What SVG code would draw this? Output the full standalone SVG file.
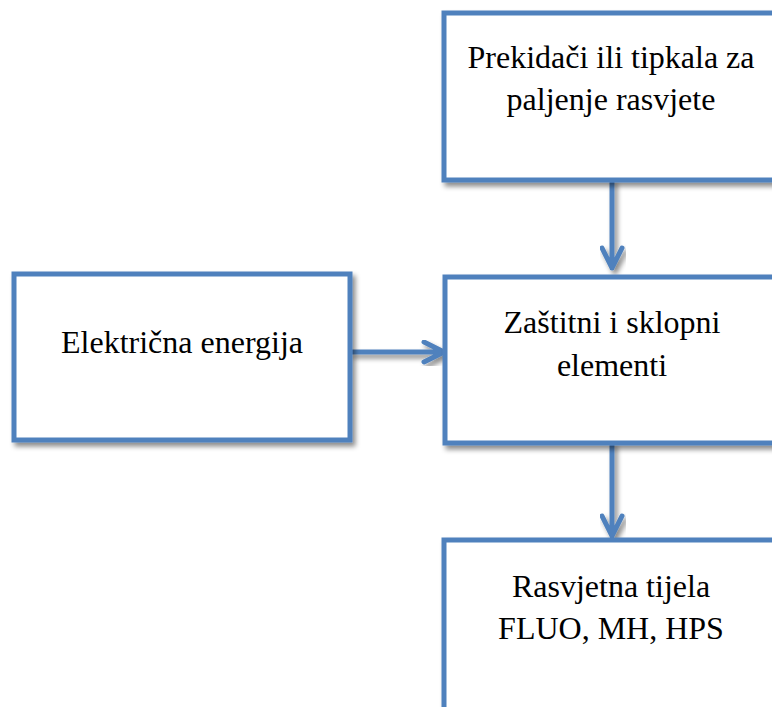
<svg xmlns="http://www.w3.org/2000/svg" width="772" height="707" viewBox="0 0 772 707">
<defs>
<filter id="sh" x="-10%" y="-10%" width="130%" height="130%">
<feDropShadow dx="3" dy="4" stdDeviation="2.5" flood-color="#000" flood-opacity="0.45"/>
</filter>
</defs>
<style>
.box{fill:#fff;stroke:#4F81BD;stroke-width:5;filter:url(#sh)}
.t{font-size:32px;fill:#000;text-anchor:middle}
.c{fill:none;stroke:#4F81BD;stroke-width:5;stroke-linecap:round;stroke-linejoin:round;filter:url(#sh)}
</style>
<rect width="772" height="707" fill="#fff"/>
<g id="connectors">
<path class="c" d="M612,181 V268 M602,248 L612,268 L622,248"/>
<path class="c" d="M352,352 H444 M424,342 L444,352 L424,362"/>
<path class="c" d="M612,444 V536 M602,516 L612,536 L622,516"/>
</g>
<g font-family="'Liberation Serif', 'Times New Roman', serif">
<g id="n1">
<rect class="box" x="444" y="13" width="340" height="167"/>
<text class="t" x="611" y="68">Prekidači ili tipkala za</text>
<text class="t" x="611" y="110">paljenje rasvjete</text>
</g>
<g id="n2">
<rect class="box" x="14" y="274" width="336" height="166"/>
<text class="t" x="182" y="353">Električna energija</text>
</g>
<g id="n3">
<rect class="box" x="445" y="277" width="340" height="166"/>
<text class="t" x="612" y="333">Zaštitni i sklopni</text>
<text class="t" x="612" y="376">elementi</text>
</g>
<g id="n4">
<rect class="box" x="444" y="540" width="340" height="200"/>
<text class="t" x="611" y="597">Rasvjetna tijela</text>
<text class="t" x="611" y="639">FLUO, MH, HPS</text>
</g>
</g>
</svg>
